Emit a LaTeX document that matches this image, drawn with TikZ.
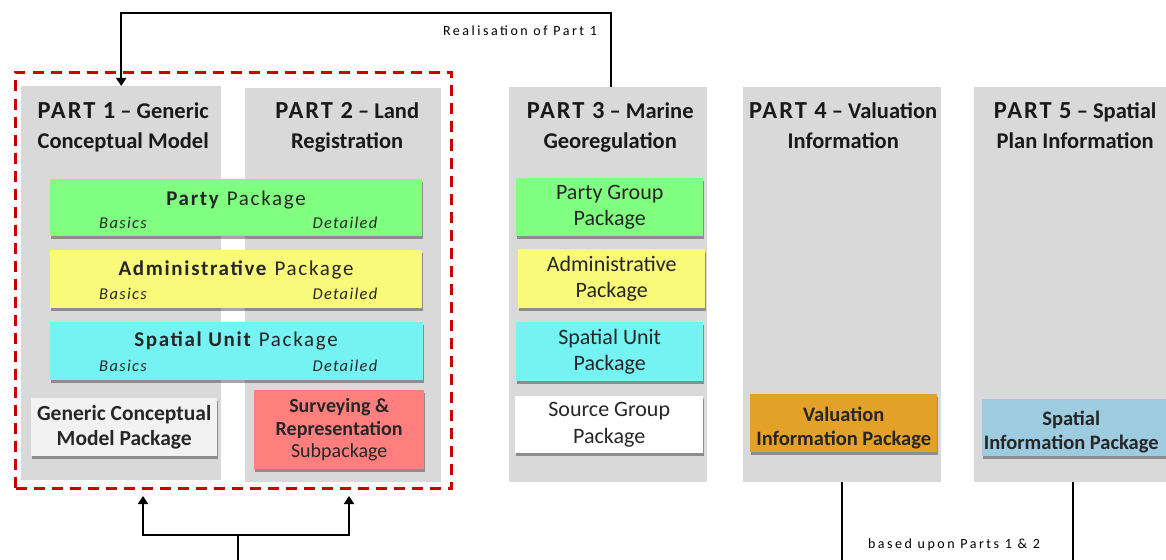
\documentclass[tikz,border=0pt]{standalone}
\usepackage{fontspec}
\setmainfont{Carlito}
\newfontfamily\spacedfont[LetterSpace=8]{Carlito}
\newfontfamily\widefont[LetterSpace=18]{Carlito}
\usetikzlibrary{calc,shadows,arrows.meta}

\definecolor{partgray}{RGB}{217,217,217}
\definecolor{framered}{RGB}{200,0,0}
\definecolor{partygreen}{RGB}{128,255,128}
\definecolor{adminyellow}{RGB}{249,249,122}
\definecolor{spatialcyan}{RGB}{117,243,243}
\definecolor{genericgray}{RGB}{242,242,242}
\definecolor{surveyred}{RGB}{255,127,127}
\definecolor{valuationorange}{RGB}{227,161,40}
\definecolor{planblue}{RGB}{157,203,224}

\newcommand{\partno}[1]{{\spacedfont\fontsize{24.5}{30}\selectfont #1}}

\tikzset{
  partbox/.style={fill=partgray, anchor=north west, inner sep=0pt, minimum width=198pt, minimum height=395pt},
  parttitle/.style={font=\bfseries\fontsize{22.5}{30}\selectfont, align=center, text=black!90, anchor=north},
  frame/.style={draw=framered, line width=3pt, dash pattern=on 11pt off 7pt, anchor=north west, inner sep=0pt, minimum width=436pt, minimum height=416pt},
  pkg/.style={anchor=north west, inner sep=0pt, align=center, text=black!85,
    font=\fontsize{22}{26.5}\selectfont,
    drop shadow={shadow xshift=1pt, shadow yshift=-3pt, opacity=0.35, fill=black}},
  pkgname/.style={font=\spacedfont\fontsize{21}{24}\selectfont, text=black!85},
  pkgtext/.style={align=center, text=black!85, font=\bfseries\fontsize{20.5}{24}\selectfont},
  tierlabel/.style={font=\spacedfont\itshape\fontsize{16.5}{19}\selectfont, text=black!85},
  conn/.style={line width=2.2pt, -{Triangle[width=10pt,length=8pt]}},
  link/.style={line width=2.2pt},
  remark/.style={font=\widefont\fontsize{14}{16}\selectfont}
}

\begin{document}
\begin{tikzpicture}[x=1pt,y=-1pt]
\clip (0,0) rectangle (1166,559);

% the five parts
\node[partbox, minimum width=200pt, minimum height=394pt] (part1) at (21,86) {};
\node[partbox, minimum width=196pt, minimum height=394pt] (part2) at (245,88) {};
\node[partbox] (part3) at (509,87) {};
\node[partbox] (part4) at (743,87) {};
\node[partbox] (part5) at (974,87) {};

\node[parttitle] (title1) at ($(part1.north)+(2,13)$) {\partno{PART 1} -- Generic\\Conceptual Model};
\node[parttitle] (title2) at ($(part2.north)+(4,11)$) {\partno{PART 2} -- Land\\Registration};
\node[parttitle] (title3) at ($(part3.north)+(2,12)$) {\partno{PART 3} -- Marine\\Georegulation};
\node[parttitle] (title4) at ($(part4.north)+(1,12)$) {\partno{PART 4} -- Valuation\\Information};
\node[parttitle] (title5) at ($(part5.north)+(2,12)$) {\partno{PART 5} -- Spatial\\Plan Information};

% packages shared by parts 1 and 2
\node[pkg, fill=partygreen, minimum width=372pt, minimum height=57pt] (party) at (50,179) {};
\node[pkgname] (partyname) at (236,200) {\textbf{Party} Package};
\node[tierlabel] (partybasics) at (123,223) {Basics};
\node[tierlabel] (partydetail) at (345,223) {Detailed};

\node[pkg, fill=adminyellow, minimum width=372pt, minimum height=58pt] (admin) at (50,250) {};
\node[pkgname] (adminname) at (236,270) {\textbf{Administrative} Package};
\node[tierlabel] (adminbasics) at (123,294) {Basics};
\node[tierlabel] (admindetail) at (345,294) {Detailed};

\node[pkg, fill=spatialcyan, minimum width=373pt, minimum height=58pt] (spatial) at (50,322) {};
\node[pkgname] (spatialname) at (236,341) {\textbf{Spatial Unit} Package};
\node[tierlabel] (spatialbasics) at (123,366) {Basics};
\node[tierlabel] (spatialdetail) at (345,366) {Detailed};

\node[pkg, fill=genericgray, minimum width=186pt, minimum height=58pt, font=\bfseries\fontsize{21.5}{25}\selectfont] (generic) at (31,398) {Generic Conceptual\\Model Package};
\node[pkg, fill=surveyred, minimum width=170pt, minimum height=79pt, font=\fontsize{20}{22.5}\selectfont] (survey) at (254,390) {\textbf{Surveying \&}\\\textbf{Representation}\\Subpackage};

% part 3 packages
\node[pkg, fill=partygreen, minimum width=187pt, minimum height=58pt] (pgroup) at (516,178) {Party Group\\Package};
\node[pkg, fill=adminyellow, minimum width=187pt, minimum height=59pt] (madmin) at (518,249) {Administrative\\Package};
\node[pkg, fill=spatialcyan, minimum width=187pt, minimum height=59pt] (mspatial) at (516,322) {Spatial Unit\\Package};
\node[pkg, fill=white, minimum width=188pt, minimum height=57pt] (sgroup) at (515,396) {Source Group\\Package};

% parts 4 and 5
\node[pkg, fill=valuationorange, minimum width=187pt, minimum height=58pt] (valuation) at (750,394) {};
\node[pkgtext] (valtext) at ($(valuation.center)+(0,5)$) {Valuation\\Information Package};
\node[pkg, fill=planblue, minimum width=188pt, minimum height=57pt] (planinfo) at (982,399) {};
\node[pkgtext] (plantext) at ($(planinfo.center)+(-5,4)$) {Spatial\\Information Package};

% frame round parts 1 and 2
\node[frame] (frame) at (14,71) {};

% connectors
\draw[conn] ([xshift=3pt]part3.north) -- ++(0,-74) -| (part1.north);
\node[remark] (realise) at (520,31) {Realisation of Part 1};

\coordinate (base) at (238,570);
\coordinate (fork) at (238,535);
\draw[link] (base) -- (fork);
\draw[conn] (fork) -| ([xshift=129pt,yshift=-6pt]frame.south west);
\draw[conn] (fork) -| ([xshift=335pt,yshift=-6pt]frame.south west);

\draw[link] (part4.south) -- ++(0,90);
\draw[link] (part5.south) -- ++(0,90);
\node[remark] (basedon) at (954,545) {based upon Parts 1 \& 2};
\end{tikzpicture}
\end{document}
